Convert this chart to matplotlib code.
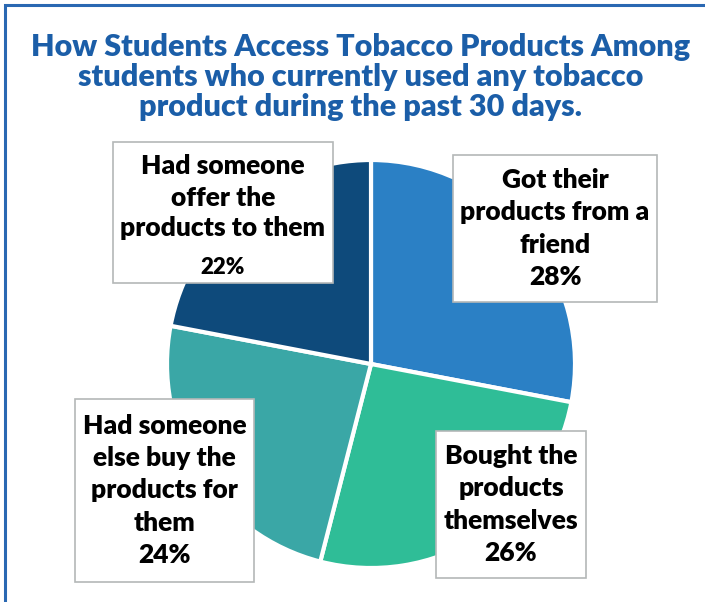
import matplotlib.pyplot as plt
from matplotlib.patches import Rectangle

# data
labels = ["Got their\nproducts from a\nfriend", "Bought the\nproducts\nthemselves",
          "Had someone\nelse buy the\nproducts for\nthem", "Had someone\noffer the\nproducts to them"]
shares = [28, 26, 24, 22]
colors = ["#2b80c5", "#2fbd97", "#3aa7a6", "#0e4a7b"]
# label boxes in pixel coords (left, top, right, bottom)
boxes = [(453, 155, 657, 302), (436, 431, 586, 578), (75, 399, 254, 582), (113, 142, 333, 283)]

W, H = 705, 602
fig = plt.figure(figsize=(W / 100, H / 100), dpi=100)
ax = fig.add_axes([0, 0, 1, 1])
ax.set_xlim(0, W)
ax.set_ylim(0, H)
ax.axis("off")

# outer frame
ax.add_patch(Rectangle((5, -20), W + 40, H - 5 + 20, fill=False, edgecolor="#2a68b2", lw=2.2))

fig.text(0.512, 1 - 77 / H,
         "How Students Access Tobacco Products Among\nstudents who currently used any tobacco\nproduct during the past 30 days.",
         ha="center", va="center", fontsize=22, fontweight="heavy", color="#1b5ea8",
         family="Lato", linespacing=1.1)

ax.pie(shares, colors=colors, startangle=90, counterclock=False,
       center=(371, H - 364), radius=204,
       wedgeprops=dict(edgecolor="white", linewidth=3))
ax.set_xlim(0, W)
ax.set_ylim(0, H)
ax.set_aspect("auto")

for lab, s, (l, t, r, b) in zip(labels, shares, boxes):
    ax.add_patch(Rectangle((l, H - b), r - l, b - t, facecolor="white",
                           edgecolor="#b4b8b8", lw=1.2, zorder=5))
    cx, cy = (l + r) / 2, H - (t + b) / 2
    if s == 22:
        ax.text(cx, cy + 15, lab, ha="center", va="center", fontsize=19, fontweight="heavy",
                family="Lato", linespacing=1.35, zorder=6)
        ax.text(cx, cy - 55, f"{s}%", ha="center", va="center", fontsize=16,
                fontweight="heavy", family="Lato", zorder=6)
    else:
        ax.text(cx, cy, lab + f"\n{s}%", ha="center", va="center", fontsize=19,
                fontweight="heavy", family="Lato", linespacing=1.42, zorder=6)

fig.savefig("out.png", dpi=100)
